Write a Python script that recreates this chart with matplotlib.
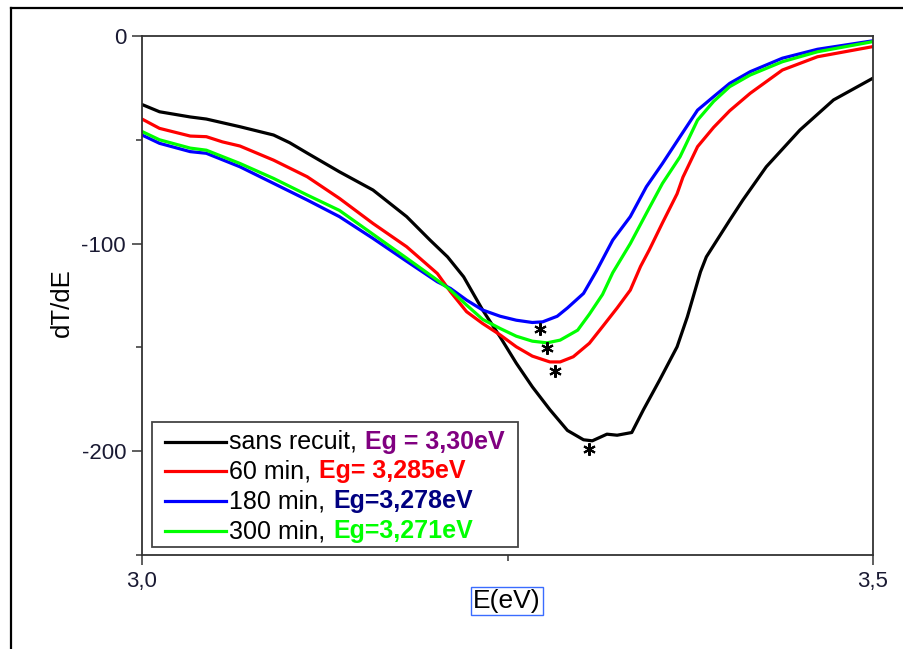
import matplotlib
matplotlib.use('Agg')
import matplotlib.pyplot as plt
from matplotlib.lines import Line2D
from matplotlib.patches import Rectangle

plt.rcParams['font.family'] = ['Liberation Sans', 'DejaVu Sans']
plt.rcParams['axes.unicode_minus'] = False

# ---------------- data ----------------
E_black = [3.000, 3.012, 3.033, 3.044, 3.067, 3.090, 3.101, 3.113, 3.135, 3.158, 3.181,
           3.197, 3.209, 3.220, 3.233, 3.245, 3.256, 3.267, 3.279, 3.291, 3.302, 3.308,
           3.318, 3.325, 3.335, 3.343, 3.354, 3.366, 3.373, 3.382, 3.386, 3.402, 3.411,
           3.427, 3.450, 3.473, 3.500]
T_black = [-33, -36.5, -39, -40, -43.7, -47.7, -51.4, -56.4, -65.4, -74.2, -87,
           -98.3, -106.4, -116, -132, -145, -157.6, -169, -180, -190, -194.5, -195,
           -191.8, -192.3, -191, -180, -165.8, -149.7, -135.3, -113.6, -106.4, -88.7, -79,
           -63, -45.3, -30.8, -20.3]

E_red = [3.000, 3.012, 3.033, 3.044, 3.055, 3.067, 3.090, 3.113, 3.135, 3.158, 3.181,
         3.202, 3.211, 3.222, 3.233, 3.245, 3.256, 3.267, 3.279, 3.286, 3.295, 3.306,
         3.315, 3.325, 3.334, 3.341, 3.347, 3.356, 3.366, 3.370, 3.380, 3.391, 3.402,
         3.416, 3.438, 3.462, 3.500]
T_red = [-40, -44.5, -48.2, -48.5, -51, -53, -59.8, -67.8, -78.2, -90.3, -101.5,
         -114.4, -123.2, -132.8, -138.5, -144, -149.7, -154.2, -157, -157, -154.5, -148,
         -140, -131, -122.4, -111, -103, -90, -76, -68, -53.3, -44, -36,
         -27.6, -16.4, -10, -5.1]

E_blue = [3.000, 3.012, 3.033, 3.044, 3.067, 3.090, 3.113, 3.135, 3.158, 3.181, 3.202,
          3.211, 3.222, 3.233, 3.245, 3.256, 3.267, 3.274, 3.284, 3.291, 3.302, 3.311,
          3.322, 3.334, 3.345, 3.356, 3.368, 3.380, 3.391, 3.402, 3.416, 3.438, 3.462,
          3.500]
T_blue = [-47.7, -51.7, -55.7, -56.5, -63, -71, -79, -87, -97.5, -108.5, -118.4,
          -121.6, -127.2, -132, -135, -136.9, -138, -137.7, -135, -131, -124, -113,
          -98.3, -87, -72.6, -61.4, -48.5, -35.7, -29.2, -22.8, -17.2, -10.7, -6.4,
          -2.3]

E_green = [3.000, 3.012, 3.033, 3.044, 3.067, 3.090, 3.113, 3.135, 3.158, 3.181, 3.202,
           3.211, 3.222, 3.233, 3.245, 3.256, 3.267, 3.277, 3.286, 3.298, 3.306, 3.315,
           3.322, 3.334, 3.345, 3.356, 3.368, 3.380, 3.391, 3.402, 3.416, 3.438, 3.462,
           3.500]
T_green = [-46, -50, -54, -55, -61.4, -68.6, -76.6, -84, -95.5, -107, -117.6,
           -122.4, -129.6, -136.5, -140.9, -144.6, -147, -147.8, -146.5, -141.7, -134, -124.5,
           -114, -100, -85.4, -71, -58.2, -40.5, -31.5, -24.4, -18.8, -12.4, -7.6,
           -2.7]

# asterisks marking Eg (black, red, blue, green)
E_star = [3.306, 3.2825, 3.2722, 3.2772]
T_star = [-198.7, -161.3, -141.3, -150.2]

series_names = ['sans recuit,', '60 min,', '180 min,', '300 min,']
eg_labels = ['Eg = 3,30eV', 'Eg= 3,285eV', 'Eg=3,278eV', 'Eg=3,271eV']
line_colors = ['#000000', '#ff0000', '#0000ff', '#00ff00']
eg_colors = ['#800080', '#ff0000', '#000080', '#00ff00']

x_ticks = [3.0, 3.5]
x_ticklabels = ['3,0', '3,5']
y_ticks = [0, -100, -200]
y_ticklabels = ['0', '-100', '-200']

# ---------------- figure ----------------
W, H = 904, 649
fig = plt.figure(figsize=(W / 100, H / 100), dpi=100)
ax = fig.add_axes([142 / W, 1 - 555 / H, 731 / W, 519 / H])

series = [(E_black, T_black), (E_red, T_red), (E_blue, T_blue), (E_green, T_green)]
for (E, T), c in zip(series, line_colors):
    ax.plot(E, T, color=c, lw=2.3, solid_joinstyle='round', solid_capstyle='round')

ax.plot(E_star, T_star, ls='none', marker=(6, 2, 0), ms=9, mew=1.5, color='black')

ax.set_xlim(3.0, 3.5)
ax.set_ylim(-250, 0)
ax.set_xticks(x_ticks)
ax.set_xticklabels(x_ticklabels)
ax.set_xticks([3.25], minor=True)
ax.set_yticks(y_ticks)
ax.set_yticklabels(y_ticklabels)
ax.set_yticks([-50, -150, -250], minor=True)
ax.tick_params(which='major', direction='out', length=7.5, width=1.1, color='#333333',
               labelsize=16, pad=4, labelcolor='#1a1a33')
ax.tick_params(which='minor', direction='out', length=4.5, width=1.1, color='#333333')
for s in ax.spines.values():
    s.set_linewidth(1.3)
    s.set_color('#333333')

ax.set_ylabel('dT/dE', fontsize=18.5, va='center')
ax.yaxis.set_label_coords(-0.109, 0.486)
ax.set_xlabel('E(eV)', fontsize=19, va='center',
              bbox=dict(boxstyle='square,pad=0.08', fc='none', ec='#3a6cff', lw=1.0))
ax.xaxis.set_label_coords(0.499, -0.0886)

# ---------------- custom legend ----------------
def ax_x(px):
    return (px - 142) / 731

def ax_y(py):
    return (555 - py) / 519

ax.add_patch(Rectangle((ax_x(152), ax_y(547)), ax_x(518) - ax_x(152), ax_y(422) - ax_y(547),
                       transform=ax.transAxes, fill=True, fc='white', ec='#444444', lw=1.3,
                       zorder=5))
row_py = [441.7, 471, 501, 531]
for name, eg, lc, ec, py in zip(series_names, eg_labels, line_colors, eg_colors, row_py):
    y = ax_y(py)
    ax.add_line(Line2D([ax_x(165), ax_x(226)], [y, y], transform=ax.transAxes,
                       color=lc, lw=2.3, zorder=6))
    t = ax.text(ax_x(229), y, name, transform=ax.transAxes, fontsize=18,
                va='center', ha='left', color='black', zorder=6)
    ax.annotate(eg, xy=(1, 0), xycoords=t, xytext=(6, 0), textcoords='offset points',
                fontsize=18, fontweight='bold', color=ec, ha='left', va='bottom',
                zorder=6)

# ---------------- outer frame ----------------
fig.add_artist(Line2D([10.5 / W, 10.5 / W], [0, 1 - 7.5 / H], transform=fig.transFigure,
                      color='black', lw=1.6))
fig.add_artist(Line2D([10.5 / W, 1], [1 - 7.5 / H, 1 - 7.5 / H], transform=fig.transFigure,
                      color='black', lw=1.6))

fig.savefig('out.png', dpi=100)
